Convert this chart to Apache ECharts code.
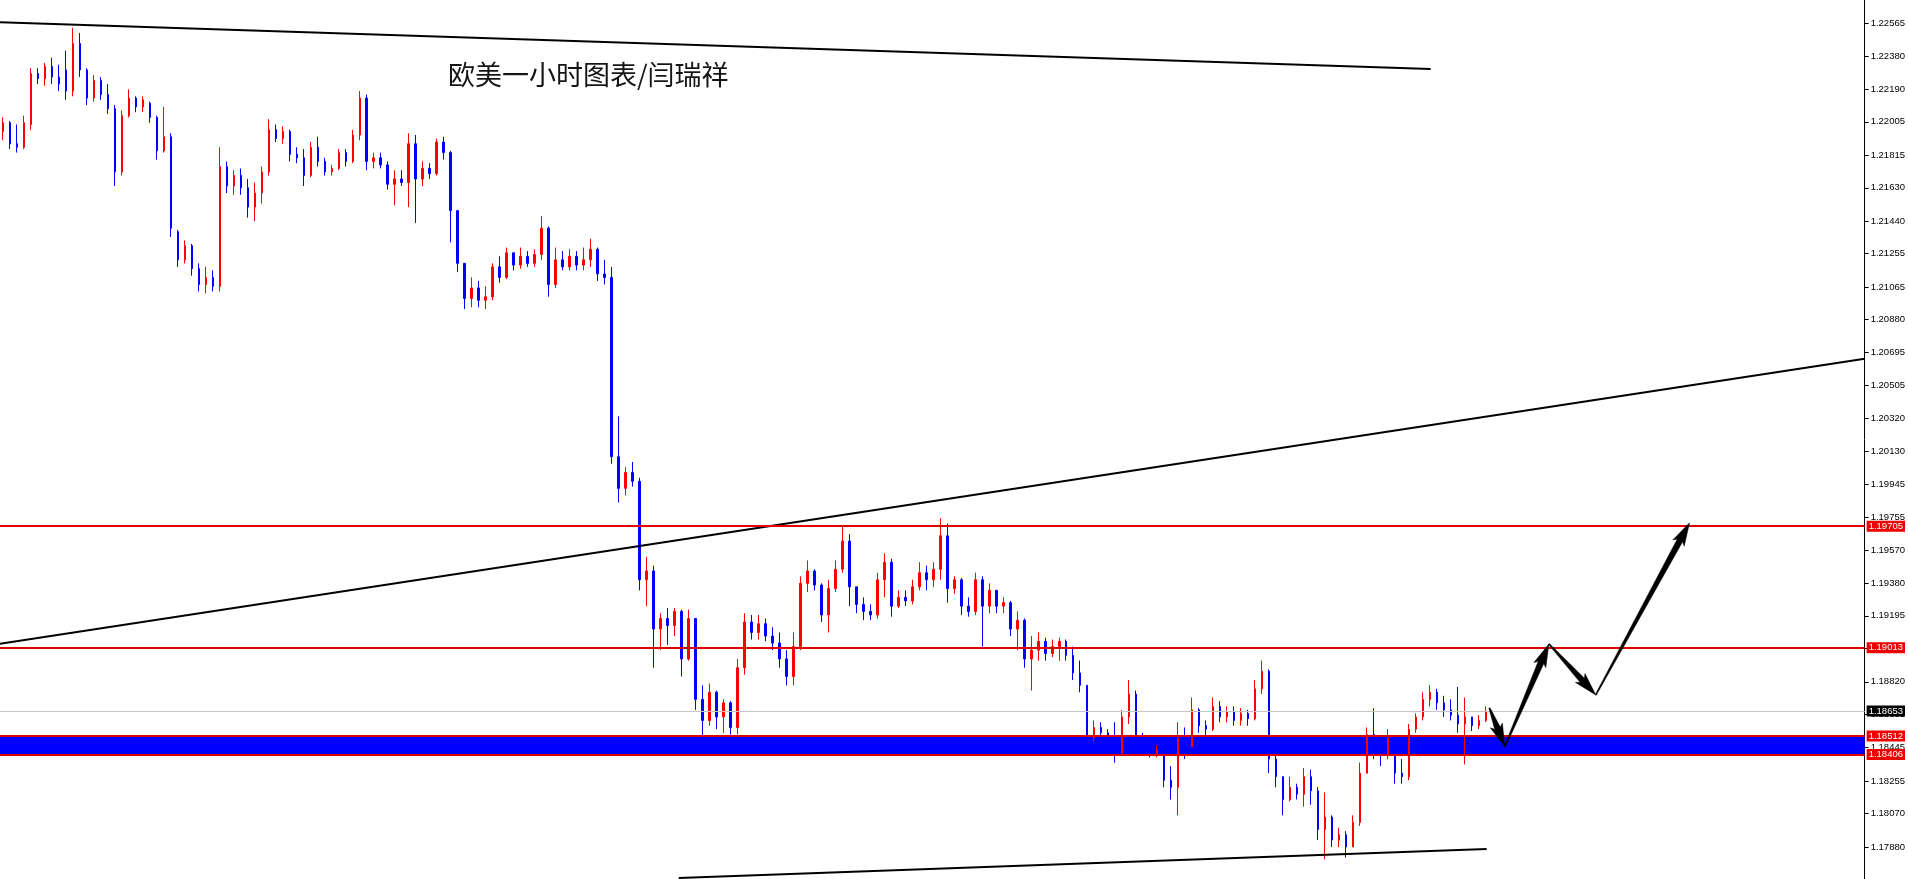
<!DOCTYPE html>
<html><head><meta charset="utf-8">
<script src="https://cdn.jsdelivr.net/npm/echarts@6/dist/echarts.min.js"></script>
<style>html,body{margin:0;padding:0;background:#fff;overflow:hidden}#c{width:1908px;height:879px}</style>
</head><body><div id="c"></div>
<script>
// EURUSD 1-hour candles: open / close / low / high
const opens=[
1.2195,1.2200,1.2188,1.2186,1.2199,1.2228,1.2225,1.2232,1.2226,1.2230,
1.2218,1.2245,1.2230,1.2214,1.2224,1.2216,1.2208,1.2172,1.2204,1.2214,
1.2209,1.2211,1.2203,1.2184,1.2192,1.2138,1.2122,1.2130,1.2117,1.2108,
1.2112,1.2107,1.2175,1.2164,1.2170,1.2163,1.2152,1.2160,1.2172,1.2196,
1.2191,1.2195,1.2182,1.2180,1.2170,1.2186,1.2178,1.2172,1.2174,1.2183,
1.2178,1.2193,1.2214,1.2178,1.2180,1.2176,1.2165,1.2168,1.2166,1.2188,
1.2168,1.2174,1.2171,1.2189,1.2183,1.2150,1.2120,1.2100,1.2106,1.2099,
1.2101,1.2118,1.2112,1.2126,1.2119,1.2124,1.2120,1.2125,1.2140,1.2108,
1.2122,1.2118,1.2124,1.2119,1.2122,1.2128,1.2114,1.2112,1.2010,1.1992,
1.2001,1.1996,1.1940,1.1945,1.1912,1.1918,1.1914,1.1922,1.1895,1.1918,
1.1872,1.1860,1.1876,1.1862,1.1870,1.1856,1.1890,1.1916,1.1910,1.1915,
1.1908,1.1904,1.1895,1.1885,1.1902,1.1938,1.1945,1.1937,1.1920,1.1935,
1.1946,1.1962,1.1936,1.1926,1.1922,1.1920,1.1940,1.1950,1.1925,1.1930,
1.1928,1.1936,1.1944,1.1940,1.1946,1.1965,1.1935,1.1940,1.1925,1.1922,
1.1940,1.1925,1.1934,1.1925,1.1927,1.1912,1.1917,1.1895,1.1900,1.1905,
1.1898,1.1902,1.1905,1.1897,1.1887,1.1880,1.1850,1.1856,1.1853,1.1846,
1.1840,1.1862,1.1875,1.1848,1.1845,1.1841,1.1843,1.1826,1.1822,1.1850,
1.1845,1.1866,1.1857,1.1855,1.1868,1.1862,1.1865,1.1860,1.1864,1.1861,
1.1878,1.1888,1.1838,1.1828,1.1815,1.1822,1.1818,1.1828,1.1820,1.1798,
1.1805,1.1792,1.1795,1.1788,1.1802,1.1830,1.1852,1.1845,1.1840,1.1850,
1.1830,1.1828,1.1855,1.1862,1.1872,1.1876,1.1870,1.1866,1.1863,1.1858,
1.1862,1.1857,1.1860];
const closes=[
1.2200,1.2188,1.2186,1.2200,1.2228,1.2225,1.2232,1.2226,1.2222,1.2218,
1.2245,1.2230,1.2214,1.2224,1.2216,1.2208,1.2172,1.2204,1.2214,1.2209,
1.2213,1.2203,1.2184,1.2192,1.2140,1.2122,1.2130,1.2117,1.2108,1.2112,
1.2107,1.2175,1.2164,1.2170,1.2163,1.2152,1.2160,1.2172,1.2196,1.2191,
1.2195,1.2182,1.2180,1.2170,1.2186,1.2178,1.2172,1.2174,1.2183,1.2178,
1.2193,1.2214,1.2178,1.2180,1.2176,1.2165,1.2168,1.2166,1.2188,1.2168,
1.2174,1.2171,1.2189,1.2183,1.2150,1.2120,1.2100,1.2106,1.2099,1.2101,
1.2118,1.2112,1.2126,1.2119,1.2124,1.2120,1.2125,1.2140,1.2108,1.2122,
1.2118,1.2124,1.2119,1.2122,1.2128,1.2114,1.2112,1.2010,1.1992,1.2001,
1.1996,1.1940,1.1945,1.1912,1.1918,1.1914,1.1922,1.1895,1.1918,1.1872,
1.1860,1.1876,1.1862,1.1870,1.1856,1.1890,1.1916,1.1910,1.1915,1.1908,
1.1904,1.1895,1.1885,1.1902,1.1938,1.1945,1.1937,1.1920,1.1935,1.1946,
1.1962,1.1936,1.1926,1.1922,1.1920,1.1940,1.1950,1.1925,1.1930,1.1928,
1.1936,1.1944,1.1940,1.1946,1.1965,1.1935,1.1940,1.1925,1.1922,1.1940,
1.1925,1.1934,1.1925,1.1927,1.1912,1.1917,1.1895,1.1900,1.1905,1.1898,
1.1902,1.1905,1.1897,1.1887,1.1880,1.1850,1.1856,1.1853,1.1846,1.1840,
1.1862,1.1875,1.1848,1.1845,1.1841,1.1843,1.1826,1.1822,1.1850,1.1845,
1.1866,1.1857,1.1855,1.1868,1.1862,1.1865,1.1860,1.1864,1.1861,1.1878,
1.1888,1.1838,1.1828,1.1815,1.1822,1.1818,1.1828,1.1820,1.1798,1.1805,
1.1792,1.1795,1.1788,1.1802,1.1830,1.1852,1.1845,1.1840,1.1850,1.1830,
1.1828,1.1855,1.1862,1.1872,1.1876,1.1870,1.1866,1.1863,1.1858,1.1862,
1.1857,1.1860,1.18653];
const lows=[
1.2190,1.2185,1.2183,1.2185,1.2196,1.2222,1.2221,1.2222,1.2218,1.2213,
1.2215,1.2226,1.2210,1.2212,1.2213,1.2205,1.2164,1.2170,1.2203,1.2206,
1.2206,1.2200,1.2179,1.2183,1.2135,1.2118,1.2120,1.2113,1.2104,1.2103,
1.2104,1.2104,1.2160,1.2159,1.2159,1.2146,1.2144,1.2154,1.2170,1.2189,
1.2188,1.2178,1.2177,1.2164,1.2169,1.2175,1.2170,1.2170,1.2173,1.2175,
1.2177,1.2190,1.2173,1.2174,1.2174,1.2162,1.2153,1.2164,1.2152,1.2143,
1.2164,1.2168,1.2170,1.2179,1.2132,1.2115,1.2094,1.2095,1.2095,1.2094,
1.2099,1.2109,1.2111,1.2116,1.2117,1.2118,1.2118,1.2122,1.2101,1.2106,
1.2116,1.2116,1.2116,1.2116,1.2118,1.2110,1.2108,1.2006,1.1984,1.1988,
1.1993,1.1934,1.1925,1.1890,1.1900,1.1903,1.1908,1.1885,1.1894,1.1866,
1.1848,1.1857,1.1855,1.1853,1.1852,1.1852,1.1886,1.1906,1.1906,1.1905,
1.1900,1.1890,1.1880,1.1880,1.1900,1.1933,1.1934,1.1916,1.1910,1.1933,
1.1944,1.1925,1.1921,1.1917,1.1917,1.1918,1.1930,1.1919,1.1924,1.1925,
1.1926,1.1934,1.1934,1.1936,1.1940,1.1927,1.1932,1.1920,1.1919,1.1920,
1.1902,1.1921,1.1921,1.1921,1.1908,1.1900,1.1890,1.1877,1.1894,1.1894,
1.1896,1.1894,1.1894,1.1883,1.1876,1.1845,1.1848,1.1850,1.1842,1.1836,
1.1840,1.1858,1.1842,1.1842,1.1839,1.1839,1.1822,1.1815,1.1806,1.1838,
1.1845,1.1853,1.1851,1.1854,1.1859,1.1859,1.1857,1.1857,1.1857,1.1860,
1.1875,1.1830,1.1822,1.1806,1.1814,1.1815,1.1811,1.1812,1.1792,1.1781,
1.1788,1.1788,1.1782,1.1788,1.1800,1.1830,1.1838,1.1834,1.1838,1.1824,
1.1824,1.1826,1.1853,1.1860,1.1868,1.1866,1.1862,1.1860,1.1853,1.1835,
1.1854,1.1855,1.1859];
const highs=[
1.2203,1.2201,1.2199,1.2204,1.2231,1.2231,1.2234,1.2237,1.2233,1.2241,
1.2254,1.2251,1.2231,1.2227,1.2226,1.2222,1.2210,1.2207,1.2219,1.2215,
1.2215,1.2212,1.2204,1.2209,1.2194,1.2139,1.2133,1.2131,1.2120,1.2118,
1.2116,1.2186,1.2178,1.2173,1.2174,1.2168,1.2166,1.2175,1.2202,1.2199,
1.2198,1.2196,1.2186,1.2185,1.2189,1.2192,1.2180,1.2176,1.2185,1.2185,
1.2196,1.2218,1.2216,1.2183,1.2183,1.2178,1.2173,1.2173,1.2194,1.2193,
1.2178,1.2177,1.2191,1.2192,1.2184,1.2150,1.2120,1.2112,1.2110,1.2107,
1.2120,1.2124,1.2129,1.2126,1.2129,1.2127,1.2128,1.2147,1.2141,1.2129,
1.2127,1.2128,1.2127,1.2129,1.2134,1.2129,1.2122,1.2118,1.2033,1.2004,
1.2007,1.1998,1.1953,1.1948,1.1921,1.1924,1.1924,1.1923,1.1923,1.1918,
1.1880,1.1881,1.1877,1.1872,1.1871,1.1895,1.1921,1.1920,1.1920,1.1918,
1.1913,1.1910,1.1900,1.1910,1.1942,1.1951,1.1946,1.1938,1.1940,1.1951,
1.1970,1.1966,1.1936,1.1930,1.1926,1.1944,1.1955,1.1952,1.1934,1.1934,
1.1940,1.1950,1.1948,1.1950,1.1975,1.1972,1.1942,1.1941,1.1930,1.1944,
1.1942,1.1938,1.1934,1.1930,1.1928,1.1922,1.1918,1.1908,1.1910,1.1907,
1.1906,1.1907,1.1906,1.1902,1.1894,1.1880,1.1860,1.1859,1.1855,1.1859,
1.1866,1.1883,1.1877,1.1853,1.1846,1.1846,1.1844,1.1834,1.1859,1.1856,
1.1873,1.1867,1.1860,1.1873,1.1871,1.1868,1.1868,1.1867,1.1866,1.1883,
1.1894,1.1889,1.1845,1.1828,1.1828,1.1824,1.1833,1.1832,1.1822,1.1819,
1.1806,1.1799,1.1797,1.1806,1.1836,1.1856,1.1867,1.1849,1.1855,1.1851,
1.1838,1.1858,1.1864,1.1876,1.1880,1.1878,1.1874,1.1872,1.1879,1.1873,
1.1862,1.1863,1.1868];

// price scale tick labels (right axis)
const yTicks=[1.22565,1.22380,1.22190,1.22005,1.21815,1.21630,1.21440,1.21255,1.21065,1.20880,
1.20695,1.20505,1.20320,1.20130,1.19945,1.19755,1.19570,1.19380,1.19195,1.19010,
1.18820,1.18635,1.18445,1.18255,1.18070,1.17880,1.17695];
const priceMin=1.17698, priceMax=1.22698;

// horizontal levels
const resistanceLevels=[1.19705,1.19013];
const zoneTop=1.18512, zoneBottom=1.18406;
const lastPrice=1.18653;

// trend lines: [bar index, price]
const trendTop=[[-0.43,1.22571],[204.1,1.22305]];
const trendMid=[[-0.43,1.19036],[266.14,1.20657]];
const trendLow=[[96.6,1.17704],[212.1,1.17869]];
// projected path (arrows): [bar index, price]
const arrowPath=[[212.5,1.18671],[214.7,1.18450],[221.0,1.19035],[227.7,1.18745],[241.1,1.19724]];

const titleText='欧美一小时图表/闫瑞祥';

const chart=echarts.init(document.getElementById('c'),null,{renderer:'canvas'});
const candleData=opens.map((o,i)=>[i,o,closes[i],lows[i],highs[i]]);

const lblBase={show:true,position:'end',distance:2,color:'#fff',fontSize:9.5,
  fontFamily:'Liberation Sans',padding:[1,2,0,2],lineHeight:10,
  formatter:p=>Number(p.value).toFixed(5)};
const redLine=v=>({yAxis:v,lineStyle:{color:'#e00000',width:2,type:'solid'},
  label:Object.assign({},lblBase,{backgroundColor:'#ee0000'})});

const arrowSegs=[];
for(let k=0;k<arrowPath.length-1;k++){
  arrowSegs.push([arrowPath[k][0],arrowPath[k][1],arrowPath[k+1][0],arrowPath[k+1][1]]);
}
const trendSeries=(d,extra)=>Object.assign({type:'line',data:d,showSymbol:false,silent:true,
  xAxisIndex:0,yAxisIndex:0,lineStyle:{color:'#000',width:2},z:4,animation:false},extra||{});

// tapered arrow: thin tail, widening shaft, filled head
function renderArrow(params,api){
  const a=api.coord([api.value(0),api.value(1)]);
  const b=api.coord([api.value(2),api.value(3)]);
  const dx=b[0]-a[0], dy=b[1]-a[1], len=Math.sqrt(dx*dx+dy*dy)||1;
  const ux=dx/len, uy=dy/len, nx=-uy, ny=ux;
  const headLen=Math.min(20,len*0.55), headW=6.5, shaftW=3, tailW=0.6, wingBack=3;
  const bx=b[0]-ux*headLen, by=b[1]-uy*headLen;
  const pts=[
    [a[0]+nx*tailW,a[1]+ny*tailW],
    [bx+nx*shaftW,by+ny*shaftW],
    [bx+nx*headW-ux*wingBack,by+ny*headW-uy*wingBack],
    [b[0],b[1]],
    [bx-nx*headW-ux*wingBack,by-ny*headW-uy*wingBack],
    [bx-nx*shaftW,by-ny*shaftW],
    [a[0]-nx*tailW,a[1]-ny*tailW]
  ];
  return {type:'polygon',shape:{points:pts},style:{fill:'#000',stroke:'#000',lineWidth:0.5}};
}

chart.setOption({
  animation:false,
  backgroundColor:'#fff',
  title:{text:titleText,left:443,top:56,
    textStyle:{fontSize:27,fontWeight:'normal',color:'#151515',fontFamily:'Noto Sans CJK SC'}},
  grid:{left:0,right:42,top:0,bottom:0},
  xAxis:{type:'value',min:-0.43,max:266.14,show:false,splitLine:{show:false}},
  yAxis:{type:'value',position:'right',min:priceMin,max:priceMax,scale:true,
    splitLine:{show:false},
    axisLine:{show:true,onZero:false,lineStyle:{color:'#000',width:1}},
    axisTick:{show:true,inside:false,length:4,customValues:yTicks,lineStyle:{color:'#000'}},
    axisLabel:{show:true,customValues:yTicks,formatter:v=>Number(v).toFixed(5),
      fontSize:9.5,fontFamily:'Liberation Sans',color:'#000',margin:6}},
  series:[
    {type:'candlestick',data:candleData,encode:{x:0,y:[1,2,3,4]},barWidth:2,z:3,
      itemStyle:{color:'#ff0000',color0:'#0000ff',borderColor:'#ff0000',borderColor0:'#0000ff',borderWidth:1},
      markArea:{silent:true,itemStyle:{color:'#0000ff',opacity:1},
        data:[[{yAxis:zoneTop},{yAxis:zoneBottom}]]},
      markLine:{silent:true,symbol:['none','none'],animation:false,precision:5,
        data:[
          {yAxis:lastPrice,lineStyle:{color:'#c4c4c4',width:1,type:'solid'},
            label:Object.assign({},lblBase,{backgroundColor:'#000'})},
          redLine(resistanceLevels[0]),redLine(resistanceLevels[1]),
          redLine(zoneTop),redLine(zoneBottom)
        ]}
    },
    trendSeries(trendTop),
    trendSeries(trendLow),
    trendSeries(trendMid),
    {type:'custom',coordinateSystem:'cartesian2d',data:arrowSegs,encode:{x:[0,2],y:[1,3]},
      renderItem:renderArrow,silent:true,z:6,clip:false,animation:false}
  ]
});
</script></body></html>
